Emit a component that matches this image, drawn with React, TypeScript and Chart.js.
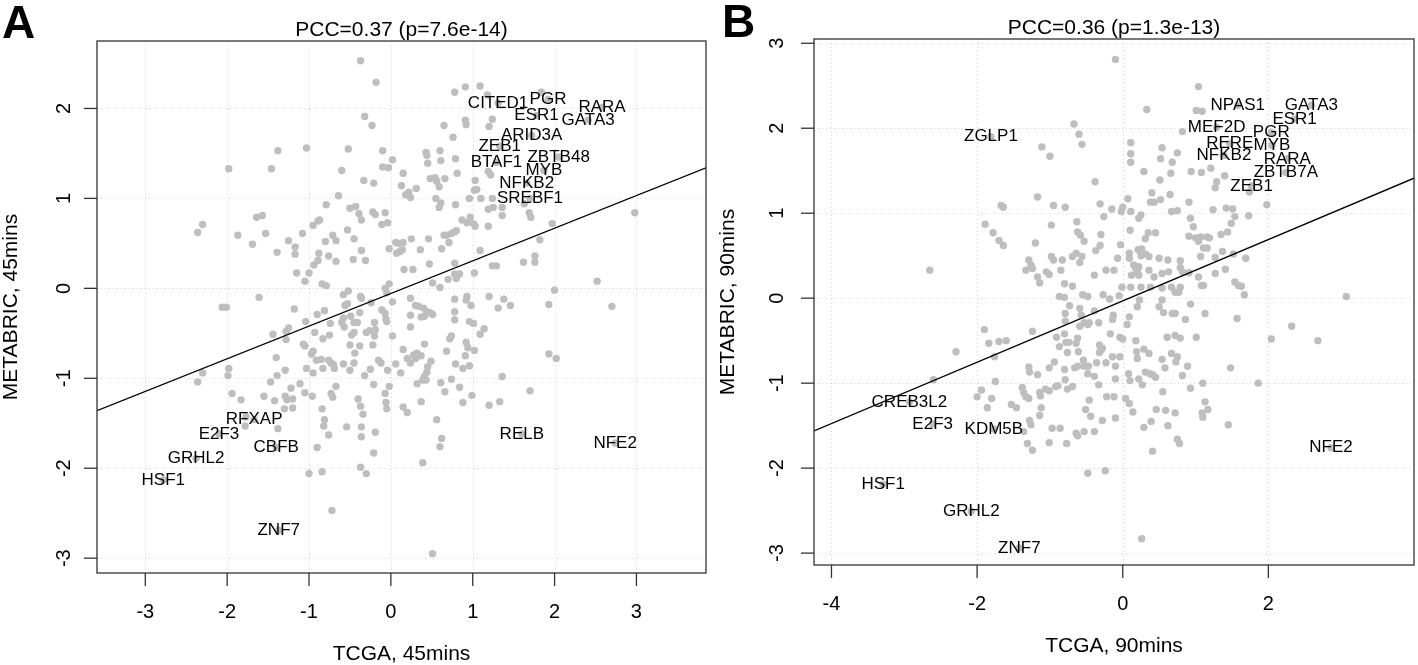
import React, { useEffect, useRef } from "react";
import { Chart, registerables } from "chart.js";

Chart.register(...registerables);

const FONT = "'Liberation Sans', Arial, Helvetica, sans-serif";
const POINT_COLOR = "#BEBEBE";

// ---------------- Panel A (45 mins) ----------------
const A_X = [
  -0.18, 0.78, 0.91, 1.09, -0.32, -0.23, 0.65, 0.76, 0.91, 0.92, 1.2, 1.24, -1.38, -1.03, -0.52, -0.1, 0.43, 0.44, 0.6, 0.61,
  0.79, 0.45, 0.02, -0.1, -0.03, -1.46, -0.6, 0.15, 0.81, -0.33, -0.21, 0.48, 0.54, 0.56, 0.59, 0.66, 0.13, 0.31, 0.22, 0.18,
  0.24, 1.03, 1.02, 1.05, 1.19, 1.22, -0.64, -0.79, -0.5, -0.43, -0.39, -0.36, -0.22, -0.19, -0.07, -0.87, -0.89, -0.95, -1.08, -0.71,
  -0.67, -0.53, -0.45, -0.8, -0.11, -0.04, 0.55, 0.61, 0.59, 0.79, 0.96, 1.19, 1.25, 1.36, 1.36, 1.1, 1.24, 0.87, 0.93, 0.97,
  1.01, 1.03, 1.19, 1.69, 1.71, 1.97, 0.68, 0.74, 0.78, 0.8, 0.71, 0.65, 0.46, 0.25, 0.06, 0.09, 0.15, 0.14, 0.07, 0.11,
  -0.02, 0.36, 0.62, 1.09, 1.82, -1.25, -1.17, -1.17, -1.39, -0.88, -0.89, -0.76, -0.46, -0.36, -0.31, -0.67, -0.94, -1.15, -1.0, 0.47,
  0.78, 0.84, 0.78, 1.24, 1.29, 1.62, 1.76, 1.76, 0.16, 0.27, 1.02, -1.05, -0.84, -0.79, -0.58, -0.52, -0.37, -0.36, -0.07, -0.02,
  -0.05, -0.24, 0.02, 0.24, 0.51, 0.6, 0.7, 0.8, -1.18, -0.9, -0.81, -0.56, -0.53, -0.38, -0.58, -0.6, -0.57, -0.49, -0.74, -1.04,
  -0.45, -0.41, -0.2, -0.26, -0.3, -0.19, -0.11, -0.07, -0.06, -0.05, 0.3, 0.34, 0.4, 0.44, 0.48, 0.51, 0.37, 0.41, 0.24, 0.24,
  0.78, 0.93, 0.92, 0.98, 0.78, 0.78, 0.96, 1.01, 1.14, 1.09, 1.2, 1.31, 1.38, 1.46, 1.93, 2.0, -1.28, -1.28, -1.25, -1.07,
  -1.05, -0.93, -0.83, -0.75, -0.48, -0.45, -0.5, -0.38, -0.22, -0.2, 0.02, -0.97, -0.95, -0.91, -0.85, -0.83, -0.95, -1.03, -0.76, -0.73,
  -0.69, -0.7, -0.58, -0.5, -0.45, -0.44, -0.32, -0.25, -0.15, -0.12, -0.04, 0.06, 0.15, 0.2, 0.24, 0.28, 0.32, 0.37, 0.41, 0.3,
  0.49, 0.45, 0.44, 0.41, 0.39, 0.43, 0.12, 0.32, 0.68, 0.72, 0.74, 0.79, 0.88, 0.96, 0.92, 0.94, 0.91, 1.02, 0.61, 0.66,
  0.74, 0.84, 0.99, 0.88, 1.2, 1.33, 1.36, 1.7, 1.93, 2.02, -1.4, -1.29, -1.39, -1.11, -1.22, -1.29, -1.27, -1.2, -1.2, -1.3,
  -1.42, -1.05, -0.96, -0.67, -0.73, -0.71, -0.84, -0.81, -0.82, -0.76, -0.9, -0.54, -0.4, -0.37, -0.34, -0.36, -0.36, -0.21, -0.19, -0.21,
  -0.37, -0.07, -0.06, -0.05, -0.02, 0.15, 0.2, 0.37, 0.56, 0.62, 0.6, 0.39, -0.37, -2.36, -2.3, -1.98, -1.87, -1.69, -1.64, -1.57,
  -1.53, -2.06, -2.01, -1.61, -2.36, -2.3, -1.98, -1.99, -1.94, -1.83, -1.77, -1.78, -1.55, -1.44, -1.47, -1.38, -1.0, -0.84, -0.72, -0.3,
  1.18, 1.84, 1.63, 2.52, 2.7, 2.98, 0.51,
];
const A_Y = [
  2.29, 2.18, 2.24, 2.25, 1.91, 1.81, 1.81, 1.68, 1.87, 1.82, 1.8, 1.88, 1.53, 1.56, 1.55, 1.53, 1.51, 1.48, 1.53, 1.42,
  1.44, 1.39, 1.43, 1.35, 1.34, 1.33, 1.31, 1.28, 1.28, 1.2, 1.17, 1.22, 1.23, 1.19, 1.13, 1.22, 1.14, 1.11, 1.07, 1.04,
  1.01, 1.2, 1.09, 1.1, 1.3, 1.26, 1.03, 0.93, 0.89, 0.91, 0.83, 0.76, 0.85, 0.82, 0.84, 0.76, 0.75, 0.7, 0.61, 0.59,
  0.53, 0.65, 0.55, 0.52, 0.71, 0.73, 1.0, 0.95, 0.9, 0.93, 1.0, 0.88, 0.9, 0.9, 0.81, 1.0, 1.0, 0.76, 0.73, 0.79,
  0.72, 0.69, 0.69, 0.84, 0.79, 0.72, 0.59, 0.61, 0.63, 0.64, 0.51, 0.59, 0.55, 0.55, 0.51, 0.5, 0.51, 0.43, 0.39, 0.41,
  0.44, 0.43, 0.44, 0.42, 0.54, 0.53, 0.46, 0.38, 0.4, 0.39, 0.31, 0.36, 0.32, 0.42, 0.31, 0.3, 0.26, 0.17, 0.17, 0.27,
  0.28, 0.16, 0.16, 0.25, 0.25, 0.29, 0.36, 0.29, 0.21, 0.21, 0.17, 0.08, 0.05, 0.03, -0.07, -0.03, -0.09, -0.11, 0.0, 0.05,
  -0.05, -0.16, -0.15, -0.11, 0.06, 0.01, 0.1, 0.11, -0.23, -0.29, -0.25, -0.19, -0.17, -0.27, -0.33, -0.38, -0.43, -0.31, -0.39, -0.37,
  -0.38, -0.38, -0.38, -0.47, -0.49, -0.46, -0.24, -0.28, -0.34, -0.37, -0.19, -0.2, -0.22, -0.26, -0.27, -0.29, -0.32, -0.31, -0.3, -0.43,
  -0.12, -0.09, -0.13, -0.19, -0.26, -0.35, -0.37, -0.39, -0.45, -0.51, -0.09, -0.22, -0.12, -0.19, -0.18, -0.02, -0.48, -0.57, -0.44, -0.62,
  -0.64, -0.49, -0.56, -0.52, -0.52, -0.49, -0.63, -0.64, -0.63, -0.53, -0.53, -0.73, -0.7, -0.8, -0.79, -0.89, -0.94, -0.89, -0.8, -0.83,
  -0.89, -0.85, -0.84, -0.91, -0.83, -0.72, -0.97, -0.9, -0.8, -0.83, -0.91, -0.84, -0.68, -0.78, -0.83, -0.74, -0.72, -0.75, -0.62, -0.78,
  -0.81, -0.87, -0.93, -0.98, -1.02, -1.02, -0.94, -1.06, -0.7, -0.56, -0.53, -0.84, -0.89, -0.86, -0.6, -0.66, -0.75, -0.69, -1.05, -1.15,
  -1.01, -1.1, -1.19, -1.27, -1.3, -1.26, -0.98, -1.14, -0.73, -0.78, -0.77, -0.91, -0.97, -1.06, -1.11, -1.2, -1.24, -1.23, -1.33, -1.34,
  -1.25, -1.16, -1.2, -1.09, -1.17, -1.21, -1.34, -1.46, -1.53, -1.63, -1.77, -1.54, -1.23, -1.31, -1.4, -1.54, -1.65, -1.07, -1.6, -1.83,
  -1.99, -1.17, -1.27, -1.34, -1.09, -1.32, -1.38, -1.26, -1.46, -1.67, -1.76, -1.94, 2.53, 0.62, 0.71, 1.33, 0.59, 0.49, 0.79, 0.81,
  0.61, -0.21, -0.21, -0.1, -1.04, -0.94, -0.89, -0.97, -1.17, -1.24, -1.43, -1.53, -1.2, -0.51, -1.04, -1.56, -2.06, -2.04, -2.47, -2.06,
  2.15, 2.18, 0.94, 0.08, -0.2, 0.84, -2.95,
];
const A_GENES = ["CITED1", "PGR", "RARA", "ESR1", "GATA3", "ARID3A", "ZEB1", "BTAF1", "ZBTB48", "MYB", "NFKB2", "SREBF1", "RFXAP", "E2F3", "GRHL2", "HSF1", "CBFB", "ZNF7", "RELB", "NFE2"];
const A_GENE_X = [1.31, 1.92, 2.58, 1.78, 2.41, 1.72, 1.33, 1.29, 2.05, 1.87, 1.66, 1.7, -1.67, -2.1, -2.38, -2.78, -1.4, -1.37, 1.6, 2.74];
const A_GENE_Y = [2.06, 2.1, 2.01, 1.92, 1.87, 1.7, 1.58, 1.4, 1.46, 1.31, 1.17, 1.0, -1.46, -1.62, -1.89, -2.13, -1.77, -2.69, -1.62, -1.72];
const A_X_TICKS = [-3, -2, -1, 0, 1, 2, 3];
const A_Y_TICKS = [-3, -2, -1, 0, 1, 2];
const A_X_RANGE = [-3.59, 3.85];
const A_Y_RANGE = [-3.165, 2.75];
const A_FIT = [-0.057, 0.363]; // intercept, slope

// ---------------- Panel B (90 mins) ----------------
const B_X = [
  0.33, 1.01, 1.09, -0.67, -0.6, -0.56, 0.82, -1.11, -1.0, 0.11, 0.11, 0.11, 0.54, 0.52, 0.68, 0.75, 0.29, 0.51, 0.66, 0.94,
  1.08, 1.21, 1.4, 1.29, 1.27, -0.38, -1.17, -1.67, -1.64, -0.95, -0.79, -0.31, -0.15, 0.07, 0.0, -0.02, 0.11, 0.4, 0.38, 0.43,
  0.52, 0.65, 0.91, 0.67, 0.75, 1.24, 1.42, 1.51, 1.54, 1.73, 1.98, 1.74, -0.26, 0.25, 0.22, -1.89, -1.78, -1.7, -1.64, -0.98,
  -0.63, -0.62, -0.58, -0.53, -0.3, 0.1, 0.35, 0.45, 0.31, 0.93, 0.97, 0.91, 1.0, 1.04, 1.07, 1.16, 1.19, 1.35, 1.44, 1.49,
  -1.2, -0.98, -0.95, -0.83, -0.69, -0.64, -0.56, -0.59, -0.37, -0.31, -0.03, 0.09, 0.09, 0.21, 0.26, 0.25, 0.31, 0.36, 0.5, 0.62,
  0.79, 1.07, 1.11, 1.16, 1.27, 1.37, 1.52, 1.69, -1.29, -1.26, -1.33, -1.24, -1.05, -1.01, -1.17, -1.14, -0.85, -0.8, -0.69, -0.39,
  -0.23, -0.12, -0.07, 0.15, 0.18, 0.2, 0.22, 0.12, 0.22, 0.36, 0.43, 0.54, 0.63, 0.79, 0.82, 0.91, 1.04, 1.27, 1.41, 1.54,
  1.59, -0.01, 0.11, 0.25, 0.38, 0.67, 0.79, -0.1, 1.04, 3.07, 2.32, -2.65, -0.87, -0.8, -0.55, -0.48, -0.27, -0.18, -0.05, 0.72,
  0.77, 0.54, 1.08, 1.11, 1.63, 1.67, -0.73, -0.79, -0.79, -0.59, -0.57, -0.59, -0.53, -0.48, -0.46, -0.39, -0.33, -0.13, -0.14, 0.09,
  0.06, 0.2, 0.23, 0.5, 0.54, 0.56, 0.68, 0.72, 0.93, 1.13, 0.86, 1.57, 2.04, -1.9, -1.84, -1.7, -1.6, -1.24, -2.29, -1.76,
  -0.91, -0.87, -0.8, -0.78, -0.74, -0.76, -0.62, -0.64, -0.61, -0.32, -0.3, -0.32, -0.28, -0.17, -0.04, 0.0, -0.14, -0.04, 0.18, 0.19,
  0.2, 0.29, 0.36, 0.54, 0.67, 0.75, 0.73, 0.61, 0.72, 0.79, 1.01, 0.89, 1.48, 1.86, -1.29, -1.28, -1.17, -1.01, -0.94, -0.8,
  -0.79, -0.66, -0.62, -0.54, -0.53, -0.47, -0.48, -0.39, -0.36, -0.23, -0.1, -0.1, -0.33, 0.08, 0.1, 0.22, 0.27, 0.31, 0.37, 0.41,
  0.45, 0.58, 0.82, 0.93, 1.1, 0.55, 1.13, 1.17, 1.09, 1.1, 1.45, -1.94, -2.0, -1.8, -1.86, -1.75, -1.38, -1.36, -1.33, -1.29,
  -1.53, -1.46, -1.14, -1.13, -1.06, -1.01, -0.92, -0.89, -0.76, -0.69, -1.12, -1.14, -1.28, -1.26, -1.36, -1.31, -1.24, -0.97, -0.86, -1.01,
  -0.77, -0.64, -0.62, -0.53, -0.39, -0.46, -0.51, -0.44, -0.28, -0.22, -0.12, -0.1, 0.04, 0.09, 0.14, 0.29, 0.39, 0.46, 0.59, 0.72,
  0.62, 0.75, 0.78, 0.41, -0.48, -0.24, 2.68, 0.26, -2.6,
];
const B_Y = [
  2.22, 2.21, 2.2, 2.05, 1.93, 1.81, 1.96, 1.78, 1.67, 1.83, 1.7, 1.6, 1.77, 1.64, 1.6, 1.71, 1.49, 1.39, 1.47, 1.49,
  1.48, 1.53, 1.44, 1.37, 1.3, 1.37, 1.19, 1.09, 1.07, 1.09, 1.07, 1.11, 1.05, 1.17, 1.07, 1.02, 1.02, 1.24, 1.13, 1.13,
  1.16, 1.22, 1.13, 1.02, 1.03, 1.04, 1.06, 1.05, 0.96, 0.97, 1.1, 1.25, 0.96, 0.98, 0.94, 0.87, 0.77, 0.68, 0.62, 0.86,
  0.9, 0.78, 0.74, 0.67, 0.75, 0.8, 0.77, 0.77, 0.7, 0.94, 0.84, 0.73, 0.71, 0.67, 0.72, 0.72, 0.71, 0.75, 0.78, 0.88,
  0.65, 0.49, 0.45, 0.45, 0.49, 0.53, 0.49, 0.42, 0.56, 0.62, 0.63, 0.53, 0.47, 0.57, 0.58, 0.5, 0.52, 0.49, 0.47, 0.45,
  0.44, 0.49, 0.59, 0.59, 0.48, 0.55, 0.52, 0.47, 0.45, 0.39, 0.33, 0.35, 0.31, 0.28, 0.25, 0.18, 0.33, 0.17, 0.14, 0.27,
  0.33, 0.33, 0.47, 0.39, 0.35, 0.31, 0.37, 0.27, 0.27, 0.33, 0.25, 0.29, 0.31, 0.36, 0.31, 0.3, 0.25, 0.29, 0.34, 0.19,
  0.15, 0.13, 0.13, 0.13, 0.13, 0.13, 0.13, 2.81, 2.49, 0.02, -0.33, 0.33, 0.02, 0.01, 0.04, 0.02, 0.04, -0.01, 0.03, 0.07,
  0.07, 0.12, 0.15, 0.15, 0.14, 0.04, -0.09, -0.18, -0.27, -0.12, -0.2, -0.33, -0.29, -0.31, -0.29, -0.15, -0.29, -0.2, -0.25, -0.22,
  -0.31, -0.1, -0.02, -0.1, -0.02, -0.17, -0.18, -0.18, -0.07, -0.18, -0.25, -0.24, -0.48, -0.37, -0.53, -0.51, -0.5, -0.39, -0.63, -0.69,
  -0.46, -0.57, -0.42, -0.52, -0.52, -0.64, -0.47, -0.53, -0.63, -0.55, -0.61, -0.64, -0.59, -0.42, -0.46, -0.48, -0.69, -0.69, -0.5, -0.63,
  -0.71, -0.6, -0.65, -0.72, -0.65, -0.69, -0.75, -0.46, -0.44, -0.47, -0.46, -0.8, -0.82, -1.0, -0.81, -0.87, -0.9, -0.82, -0.75, -0.84,
  -0.96, -0.82, -0.8, -0.73, -0.8, -0.8, -0.89, -0.92, -0.76, -0.76, -0.8, -0.95, -1.02, -0.89, -0.97, -0.95, -1.02, -0.87, -0.89, -0.9,
  -0.93, -0.82, -0.91, -1.06, -1.0, -1.1, -1.22, -1.31, -1.35, -1.4, -1.49, -1.08, -1.16, -1.18, -1.29, -0.98, -1.05, -1.11, -1.16, -1.18,
  -1.25, -1.29, -1.11, -1.15, -1.07, -1.09, -1.04, -1.03, -1.07, -1.04, -1.29, -1.38, -1.44, -1.49, -1.57, -1.71, -1.79, -1.53, -1.53, -1.7,
  -1.71, -1.59, -1.62, -1.57, -1.57, -1.2, -1.31, -1.39, -1.44, -1.16, -1.16, -1.41, -1.18, -1.24, -1.34, -1.52, -1.45, -1.31, -1.32, -1.35,
  -1.5, -1.66, -1.71, -1.8, -2.06, -2.03, -0.5, -2.83, -0.96,
];
const B_GENES = ["ZGLP1", "NPAS1", "GATA3", "ESR1", "MEF2D", "PGR", "RERE", "MYB", "NFKB2", "RARA", "ZBTB7A", "ZEB1", "CREB3L2", "E2F3", "KDM5B", "HSF1", "GRHL2", "ZNF7", "NFE2"];
const B_GENE_X = [-1.81, 1.58, 2.59, 2.36, 1.29, 2.04, 1.47, 2.05, 1.39, 2.26, 2.24, 1.77, -2.93, -2.61, -1.77, -3.29, -2.08, -1.42, 2.86];
const B_GENE_Y = [1.9, 2.27, 2.27, 2.11, 2.01, 1.95, 1.82, 1.8, 1.68, 1.64, 1.48, 1.32, -1.22, -1.48, -1.54, -2.19, -2.51, -2.94, -1.76];
const B_X_TICKS = [-4, -2, 0, 2];
const B_Y_TICKS = [-3, -2, -1, 0, 1, 2, 3];
const B_X_RANGE = [-4.24, 4.0];
const B_Y_RANGE = [-3.14, 3.05];
const B_FIT = [-0.032, 0.361];

type PanelCfg = {
  letter: string;
  title: string;
  xTitle: string;
  yTitle: string;
  xs: number[];
  ys: number[];
  genes: string[];
  geneX: number[];
  geneY: number[];
  xTicks: number[];
  yTicks: number[];
  xRange: number[];
  yRange: number[];
  fit: number[];
  canvasLeft: number;
  canvasWidth: number;
  padding: { left: number; right: number; top: number; bottom: number };
  letterX: number;
  letterY: number;
  yLabOff: number;
};

const PANELS: PanelCfg[] = [
  {
    letter: "A",
    title: "PCC=0.37 (p=7.6e-14)",
    xTitle: "TCGA, 45mins",
    yTitle: "METABRIC, 45mins",
    xs: A_X, ys: A_Y, genes: A_GENES, geneX: A_GENE_X, geneY: A_GENE_Y,
    xTicks: A_X_TICKS, yTicks: A_Y_TICKS, xRange: A_X_RANGE, yRange: A_Y_RANGE, fit: A_FIT,
    canvasLeft: 0, canvasWidth: 760,
    padding: { left: 97, right: 54, top: 41, bottom: 92 },
    letterX: 2, letterY: 38, yLabOff: 27,
  },
  {
    letter: "B",
    title: "PCC=0.36 (p=1.3e-13)",
    xTitle: "TCGA, 90mins",
    yTitle: "METABRIC, 90mins",
    xs: B_X, ys: B_Y, genes: B_GENES, geneX: B_GENE_X, geneY: B_GENE_Y,
    xTicks: B_X_TICKS, yTicks: B_Y_TICKS, xRange: B_X_RANGE, yRange: B_Y_RANGE, fit: B_FIT,
    canvasLeft: 700, canvasWidth: 718,
    padding: { left: 114, right: 2, top: 39, bottom: 100 },
    letterX: 22, letterY: 37, yLabOff: 31,
  },
];

function makePlugin(p: PanelCfg) {
  return {
    id: "panelDecor" + p.letter,
    beforeDatasetsDraw(chart: any) {
      const { ctx, chartArea: a, scales } = chart;
      const sx = scales.x, sy = scales.y;
      ctx.save();
      ctx.strokeStyle = "#D3D3D3";
      ctx.lineWidth = 1;
      ctx.setLineDash([1, 3]);
      for (const t of p.xTicks) {
        const px = Math.round(sx.getPixelForValue(t)) + 0.5;
        ctx.beginPath(); ctx.moveTo(px, a.top); ctx.lineTo(px, a.bottom); ctx.stroke();
      }
      for (const t of p.yTicks) {
        const py = Math.round(sy.getPixelForValue(t)) + 0.5;
        ctx.beginPath(); ctx.moveTo(a.left, py); ctx.lineTo(a.right, py); ctx.stroke();
      }
      ctx.restore();
    },
    afterDatasetsDraw(chart: any) {
      const { ctx, chartArea: a, scales } = chart;
      const sx = scales.x, sy = scales.y;
      ctx.save();
      // gene labels
      ctx.fillStyle = "#000";
      ctx.font = `17px ${FONT}`;
      ctx.textAlign = "center";
      ctx.textBaseline = "middle";
      p.genes.forEach((g, i) => {
        ctx.fillText(g, sx.getPixelForValue(p.geneX[i]), sy.getPixelForValue(p.geneY[i]));
      });
      // box
      ctx.strokeStyle = "#333";
      ctx.lineWidth = 1.3;
      ctx.strokeRect(a.left, a.top, a.right - a.left, a.bottom - a.top);
      // ticks
      ctx.font = `20px ${FONT}`;
      ctx.textBaseline = "alphabetic";
      for (const t of p.xTicks) {
        const px = sx.getPixelForValue(t);
        ctx.beginPath(); ctx.moveTo(px, a.bottom); ctx.lineTo(px, a.bottom + 13); ctx.stroke();
        ctx.fillText(String(t), px, a.bottom + 45);
      }
      for (const t of p.yTicks) {
        const py = sy.getPixelForValue(t);
        ctx.beginPath(); ctx.moveTo(a.left - 13, py); ctx.lineTo(a.left, py); ctx.stroke();
        ctx.save();
        ctx.translate(a.left - p.yLabOff, py);
        ctx.rotate(-Math.PI / 2);
        ctx.fillText(String(t), 0, 0);
        ctx.restore();
      }
      // titles
      const cx = (a.left + a.right) / 2;
      ctx.font = `21px ${FONT}`;
      ctx.fillText(p.title, cx, a.top - 5);
      ctx.fillText(p.xTitle, cx, a.bottom + 87);
      ctx.save();
      ctx.translate(a.left - 80, (a.top + a.bottom) / 2);
      ctx.rotate(-Math.PI / 2);
      ctx.fillText(p.yTitle, 0, 0);
      ctx.restore();
      // panel letter
      ctx.font = `bold 46px ${FONT}`;
      ctx.textAlign = "left";
      ctx.fillText(p.letter, p.letterX, p.letterY);
      ctx.restore();
    },
  };
}

function Panel({ cfg }: { cfg: PanelCfg }) {
  const ref = useRef<HTMLCanvasElement | null>(null);
  useEffect(() => {
    if (!ref.current) return;
    const pts = cfg.xs.map((x, i) => ({ x, y: cfg.ys[i] }));
    const genePts = cfg.geneX.map((x, i) => ({ x, y: cfg.geneY[i] }));
    const [b0, b1] = cfg.fit;
    const fitPts = cfg.xRange.map((x) => ({ x, y: b0 + b1 * x }));
    const chart = new Chart(ref.current, {
      type: "scatter",
      data: {
        datasets: [
          { data: fitPts, showLine: true, borderColor: "#000", borderWidth: 1.3, pointRadius: 0, order: 0 },
          { data: pts, backgroundColor: POINT_COLOR, pointRadius: 3.7, borderWidth: 0, order: 1 },
          { data: genePts, backgroundColor: POINT_COLOR, pointRadius: 3.7, borderWidth: 0, order: 2 },
        ],
      },
      options: {
        animation: false,
        responsive: false,
        devicePixelRatio: 1,
        events: [],
        layout: { padding: cfg.padding },
        plugins: { legend: { display: false }, tooltip: { enabled: false }, title: { display: false } },
        scales: {
          x: { type: "linear", min: cfg.xRange[0], max: cfg.xRange[1], display: false },
          y: { type: "linear", min: cfg.yRange[0], max: cfg.yRange[1], display: false },
        },
      },
      plugins: [makePlugin(cfg)],
    } as any);
    return () => chart.destroy();
  }, [cfg]);
  return (
    <canvas
      ref={ref}
      width={cfg.canvasWidth}
      height={665}
      style={{ position: "absolute", left: cfg.canvasLeft, top: 0, width: cfg.canvasWidth, height: 665 }}
    />
  );
}

export default function App() {
  return (
    <div style={{ position: "fixed", left: 0, top: 0, width: 1418, height: 665, background: "#fff", overflow: "hidden" }}>
      {PANELS.map((p) => (
        <Panel key={p.letter} cfg={p} />
      ))}
    </div>
  );
}
